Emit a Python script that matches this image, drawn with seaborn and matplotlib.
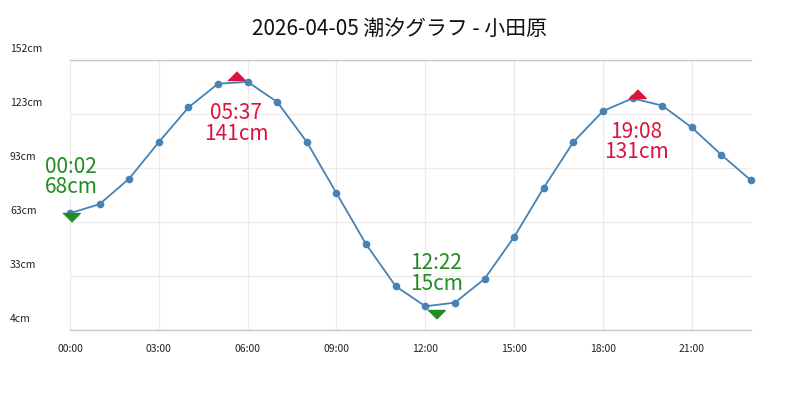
import seaborn as sns
import matplotlib.pyplot as plt
from matplotlib.transforms import blended_transform_factory, ScaledTranslation

hours = list(range(24))
levels = [68, 73, 87, 107, 126, 139, 140, 129, 107, 79, 51, 28,
          17, 19, 32, 55, 82, 107, 124, 131, 127, 115, 100, 86]

high_times = ["05:37", "19:08"]
high_levels = [141, 131]
low_times = ["00:02", "12:22"]
low_levels = [68, 15]

y_ticks = [4, 33.6, 63.2, 92.8, 122.4, 152]
y_labels = ["4cm", "33cm", "63cm", "93cm", "123cm", "152cm"]
x_ticks = [0, 3, 6, 9, 12, 15, 18, 21]
x_labels = ["00:00", "03:00", "06:00", "09:00", "12:00", "15:00", "18:00", "21:00"]
title = "2026-04-05 潮汐グラフ - 小田原"


def to_hours(t):
    h, m = t.split(":")
    return int(h) + int(m) / 60


sns.set_style("whitegrid")
plt.rcParams['font.family'] = ['Noto Sans CJK JP', 'DejaVu Sans']

fig = plt.figure(figsize=(8, 4), dpi=100)
ax = fig.add_axes([0.0875, 0.175, 0.85125, 0.675])

sns.lineplot(x=hours, y=levels, ax=ax, color="#4682b4", linewidth=1.3,
             marker="o", markersize=5.5, markeredgewidth=0, clip_on=False)

up = [(-1, 0), (1, 0), (0, 1)]
down = [(-1, 0), (1, 0), (0, -1)]
hx = [to_hours(t) for t in high_times]
lx = [to_hours(t) for t in low_times]
ax.plot(hx, high_levels, linestyle="none", marker=up, markersize=12.5, color="crimson")
ax.plot(lx, low_levels, linestyle="none", marker=down, markersize=12.5,
        color="forestgreen", clip_on=False)

for x, v, t in zip(hx, high_levels, high_times):
    ax.annotate(f"{t}\n{v}cm", (x, v), xytext=(0, -16), textcoords="offset points",
                ha="center", va="top", color="crimson", fontsize=15, linespacing=0.9)
for x, v, t in zip(lx, low_levels, low_times):
    ax.annotate(f"{t}\n{v}cm", (x, v), xytext=(0, 11), textcoords="offset points",
                ha="center", va="bottom", color="forestgreen", fontsize=15, linespacing=0.9)

ax.set_xlim(0, 23)
ax.set_ylim(4, 152)
ax.set_xticks(x_ticks, x_labels)
ax.set_yticks(y_ticks)
ax.set_yticklabels([])
ax.tick_params(axis="x", length=0, pad=10, labelsize=7.5, colors="#222222")
ax.tick_params(axis="y", length=0)

trans = blended_transform_factory(fig.transFigure, ax.transData) + \
    ScaledTranslation(0, 4.5 / 72, fig.dpi_scale_trans)
for v, lab in zip(y_ticks, y_labels):
    ax.text(10 / 800, v, lab, transform=trans, ha="left", va="bottom",
            fontsize=7.5, color="#222222")

ax.grid(True, color="#ebebeb", linewidth=0.9)
for side in ["left", "right"]:
    ax.spines[side].set_visible(False)
for side in ["top", "bottom"]:
    ax.spines[side].set_color("#c8c8c8")
    ax.spines[side].set_linewidth(1)

fig.suptitle(title, fontsize=15, y=0.955, color="#111111")

plt.savefig("out.png", dpi=100)
